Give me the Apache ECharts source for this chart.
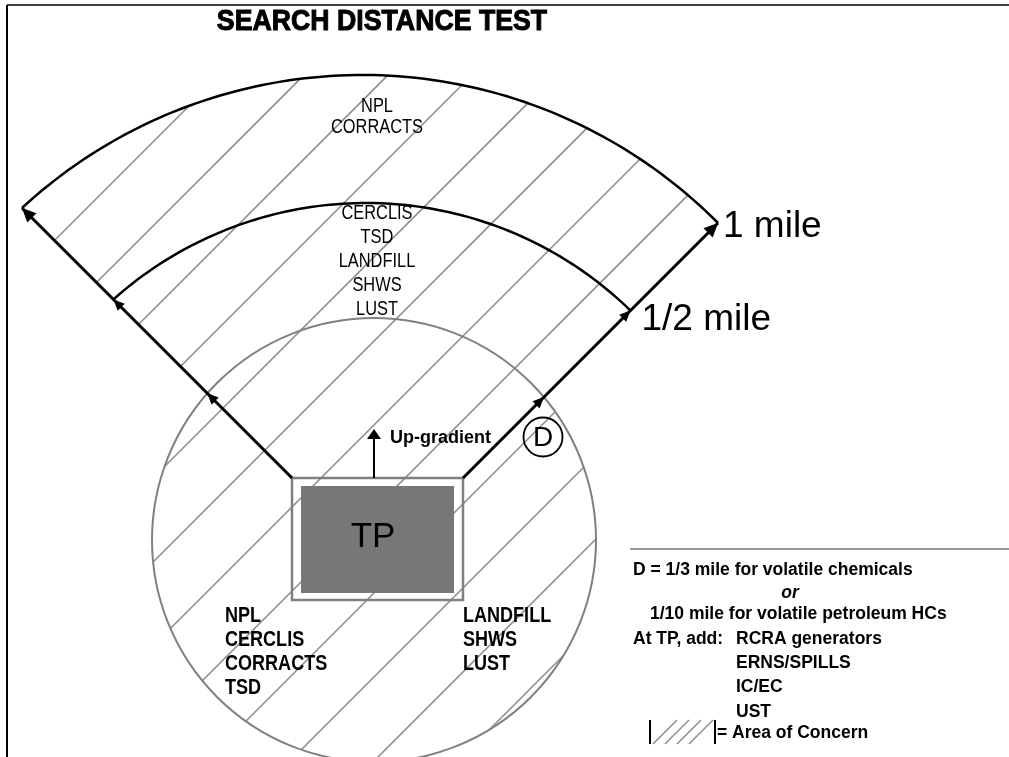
<!DOCTYPE html>
<html>
<head>
<meta charset="utf-8">
<script src="https://cdn.jsdelivr.net/npm/echarts@6/dist/echarts.min.js"></script>
<style>
  html, body { margin: 0; padding: 0; background: #fff; }
  #main { width: 1009px; height: 757px; }
</style>
</head>
<body>
<div id="main"></div>
<script>
// text content of the diagram
const titleText = 'SEARCH DISTANCE TEST';
const ringLabels = ['1 mile', '1/2 mile'];
const outerZoneSites = ['NPL', 'CORRACTS'];
const middleZoneSites = ['CERCLIS', 'TSD', 'LANDFILL', 'SHWS', 'LUST'];
const innerLeftSites = ['NPL', 'CERCLIS', 'CORRACTS', 'TSD'];
const innerRightSites = ['LANDFILL', 'SHWS', 'LUST'];
const dNotes = ['D = 1/3 mile for volatile chemicals', 'or', '1/10 mile for volatile petroleum HCs'];
const tpAddLead = 'At TP, add:';
const tpAddSites = ['RCRA generators', 'ERNS/SPILLS', 'IC/EC', 'UST'];
const legendText = '= Area of Concern';
const siteText = 'TP';
const distText = 'D';
const gradientText = 'Up-gradient';

// layout (axis units = px)
const W = 1009, H = 757;
const outerRing = { cx: 362.2, cy: 576.7, r: 501.7 };
const innerRing = { cx: 366, cy: 582, r: 379 };
const dCircle = { cx: 374, cy: 540, r: 222 };
const siteBox = { x1: 292, y1: 478, x2: 463, y2: 600 };
const tpFill = { x1: 301, y1: 486, x2: 454, y2: 593 };
const hatchOffset = 295, hatchStep = 84;

const SQ = Math.SQRT1_2;
const sides = [
  { p: [siteBox.x1, siteBox.y1], d: [-SQ, -SQ] },
  { p: [siteBox.x2, siteBox.y1], d: [SQ, -SQ] }
];

function rayHit(side, c) {
  const px = side.p[0] - c.cx, py = side.p[1] - c.cy;
  const b = side.d[0] * px + side.d[1] * py;
  const cc = px * px + py * py - c.r * c.r;
  const t = -b + Math.sqrt(b * b - cc);
  return [side.p[0] + side.d[0] * t, side.p[1] + side.d[1] * t];
}

// x-interval of the line x + y = s inside a circle
function lineCircle(s, c) {
  const u = s - c.cy;
  const B = c.cx + u;
  const disc = B * B - 2 * (c.cx * c.cx + u * u - c.r * c.r);
  if (disc <= 0) return null;
  const q = Math.sqrt(disc);
  return [(B - q) / 2, (B + q) / 2];
}

// wedge between the two rays, under the outer arc, above the site box
const leftConst = siteBox.y1 - siteBox.x1;
const rightConst = siteBox.y1 + siteBox.x2;
function lineWedge(s) {
  if (s > rightConst) return null;
  const d = lineCircle(s, outerRing);
  if (!d) return null;
  const lo = Math.max(d[0], (s - leftConst) / 2, s - siteBox.y1);
  return lo < d[1] ? [lo, d[1]] : null;
}

const hatchSegs = [];
for (let k = -6; k < 30; k++) {
  const s = hatchOffset + k * hatchStep;
  const a = lineCircle(s, dCircle), b = lineWedge(s);
  let parts = [];
  if (a && b && a[0] <= b[1] && b[0] <= a[1]) parts = [[Math.min(a[0], b[0]), Math.max(a[1], b[1])]];
  else parts = [a, b].filter(Boolean);
  parts.forEach(p => hatchSegs.push([p[0], s - p[0], p[1], s - p[1]]));
}

// legend swatch hatch
const swatch = { x1: 650, x2: 715, y1: 720, y2: 744 };
[1397, 1409, 1421, 1433].forEach(s => {
  const xa = Math.max(swatch.x1 + 2, s - swatch.y2), xb = Math.min(swatch.x2 - 2, s - swatch.y1);
  hatchSegs.push([xa, s - xa, xb, s - xb]);
});

const rings = [outerRing, innerRing].map(r => Object.assign({ ends: sides.map(sd => rayHit(sd, r)) }, r));

const markers = [];
rings.forEach((r, i) => r.ends.forEach((e, j) => markers.push({ p: e, d: sides[j].d, len: i === 0 ? 14 : 11, hw: i === 0 ? 6.5 : 5 })));
sides.forEach(sd => markers.push({ p: rayHit(sd, dCircle), d: sd.d, len: 11, hw: 5 }));
markers.push({ p: [374, 429], d: [0, -1], len: 10, hw: 7 });

const fonts = {
  title: { fontSize: 30, fontWeight: 'bold', sx: 0.89, stroke: 1 },
  zone: { fontSize: 20, fontWeight: 'normal', sx: 0.82 },
  site: { fontSize: 22, fontWeight: 'bold', sx: 0.82 },
  ring: { fontSize: 37, fontWeight: 'normal' },
  note: { fontSize: 17.5, fontWeight: 'bold' },
  noteIt: { fontSize: 17.5, fontWeight: 'bold', fontStyle: 'italic' },
  arrow: { fontSize: 18, fontWeight: 'bold' },
  tp: { fontSize: 35, fontWeight: 'normal' },
  d: { fontSize: 28, fontWeight: 'normal' }
};

const labels = [];
function put(text, x, y, font, align) {
  labels.push({ text, x, y, font, align: align || 'left' });
}
put(titleText, 382, 22, 'title', 'center');
outerZoneSites.forEach((t, i) => put(t, 377, 106 + i * 21.5, 'zone', 'center'));
middleZoneSites.forEach((t, i) => put(t, 377, 213 + i * 24.2, 'zone', 'center'));
innerLeftSites.forEach((t, i) => put(t, 225, 616 + i * 24, 'site'));
innerRightSites.forEach((t, i) => put(t, 463, 616 + i * 24, 'site'));
put(ringLabels[0], rings[0].ends[1][0] + 5, rings[0].ends[1][1] + 4, 'ring');
put(ringLabels[1], rings[1].ends[1][0] + 11, rings[1].ends[1][1] + 9, 'ring');
put(dNotes[0], 633, 570, 'note');
put(dNotes[1], 790, 593, 'noteIt', 'center');
put(dNotes[2], 650, 614, 'note');
put(tpAddLead, 633, 639, 'note');
tpAddSites.forEach((t, i) => put(t, 736, 639 + i * 24.3, 'note'));
put(legendText, 717, 733, 'note');
put(gradientText, 390, 438, 'arrow');
put(siteText, 373, 537, 'tp', 'center');
put(distText, 543, 438, 'd', 'center');

const chart = echarts.init(document.getElementById('main'));

const base = { type: 'custom', coordinateSystem: 'cartesian2d', silent: true, animation: false };

const option = {
  backgroundColor: '#fff',
  grid: { left: 0, right: 0, top: 0, bottom: 0 },
  xAxis: { type: 'value', min: 0, max: W, show: false },
  yAxis: { type: 'value', min: 0, max: H, inverse: true, show: false },
  series: [
    // hatch
    Object.assign({}, base, {
      z: 1,
      data: hatchSegs,
      renderItem: (params, api) => {
        const a = api.coord([api.value(0), api.value(1)]);
        const b = api.coord([api.value(2), api.value(3)]);
        return { type: 'line', shape: { x1: a[0], y1: a[1], x2: b[0], y2: b[1] }, style: { stroke: '#8a8a8a', lineWidth: 1.5 } };
      }
    }),
    // D circle
    Object.assign({}, base, {
      z: 2,
      data: [[dCircle.cx, dCircle.cy, dCircle.r]],
      renderItem: (params, api) => {
        const c = api.coord([api.value(0), api.value(1)]);
        const r = api.size([api.value(2), 0])[0];
        return { type: 'circle', shape: { cx: c[0], cy: c[1], r: r }, style: { stroke: '#808080', lineWidth: 2, fill: null } };
      }
    }),
    // site box
    Object.assign({}, base, {
      z: 3,
      data: [[0]],
      renderItem: (params, api) => {
        const a = api.coord([siteBox.x1, siteBox.y1]), b = api.coord([siteBox.x2, siteBox.y2]);
        const c = api.coord([tpFill.x1, tpFill.y1]), d = api.coord([tpFill.x2, tpFill.y2]);
        return {
          type: 'group',
          children: [
            { type: 'rect', shape: { x: c[0], y: c[1], width: d[0] - c[0], height: d[1] - c[1] }, style: { fill: '#777777' } },
            { type: 'rect', shape: { x: a[0], y: a[1], width: b[0] - a[0], height: b[1] - a[1] }, style: { fill: null, stroke: '#808080', lineWidth: 2.5 } }
          ]
        };
      }
    }),
    // arcs
    Object.assign({}, base, {
      z: 4,
      data: ringLabels.map((l, i) => [i]),
      renderItem: (params, api) => {
        const r = rings[params.dataIndex];
        const a0 = Math.atan2(r.ends[0][1] - r.cy, r.ends[0][0] - r.cx);
        const a1 = Math.atan2(r.ends[1][1] - r.cy, r.ends[1][0] - r.cx);
        const pts = [];
        for (let i = 0; i <= 90; i++) {
          const a = a0 + (a1 - a0) * i / 90;
          pts.push(api.coord([r.cx + r.r * Math.cos(a), r.cy + r.r * Math.sin(a)]));
        }
        return { type: 'polyline', shape: { points: pts }, style: { stroke: '#000', lineWidth: 2.5, fill: null } };
      }
    }),
    // radial lines + up-gradient shaft
    Object.assign({}, base, {
      z: 4,
      data: [[sides[0].p[0], sides[0].p[1], rings[0].ends[0][0], rings[0].ends[0][1], 3],
             [sides[1].p[0], sides[1].p[1], rings[0].ends[1][0], rings[0].ends[1][1], 3],
             [374, siteBox.y1, 374, 438, 2]],
      renderItem: (params, api) => {
        const a = api.coord([api.value(0), api.value(1)]);
        const b = api.coord([api.value(2), api.value(3)]);
        return { type: 'line', shape: { x1: a[0], y1: a[1], x2: b[0], y2: b[1] }, style: { stroke: '#000', lineWidth: api.value(4) } };
      }
    }),
    // arrowheads
    Object.assign({}, base, {
      z: 5,
      data: markers.map(m => [m.p[0], m.p[1]]),
      renderItem: (params, api) => {
        const m = markers[params.dataIndex];
        const x = api.value(0), y = api.value(1);
        const bx = x - m.d[0] * m.len, by = y - m.d[1] * m.len;
        const nx = -m.d[1] * m.hw, ny = m.d[0] * m.hw;
        const pts = [[x, y], [bx + nx, by + ny], [bx - nx, by - ny]].map(p => api.coord(p));
        return { type: 'polygon', shape: { points: pts }, style: { fill: '#000' } };
      }
    }),
    // D marker circle, frame lines
    Object.assign({}, base, {
      z: 5,
      data: [[0]],
      renderItem: (params, api) => {
        const dc = api.coord([543, 437]);
        const seg = (x1, y1, x2, y2, w, c) => {
          const a = api.coord([x1, y1]), b = api.coord([x2, y2]);
          return { type: 'line', shape: { x1: a[0], y1: a[1], x2: b[0], y2: b[1] }, style: { stroke: c || '#000', lineWidth: w } };
        };
        return {
          type: 'group',
          children: [
            { type: 'circle', shape: { cx: dc[0], cy: dc[1], r: api.size([19.5, 0])[0] }, style: { fill: null, stroke: '#000', lineWidth: 1.8 } },
            seg(7, 5, W, 5, 1.5),
            seg(7, 5, 7, H, 2),
            seg(630, 549, W, 549, 1, '#333'),
            seg(swatch.x1, swatch.y1, swatch.x1, swatch.y2, 2),
            seg(swatch.x2, swatch.y1, swatch.x2, swatch.y2, 2)
          ]
        };
      }
    }),
    // texts
    Object.assign({}, base, {
      z: 10,
      data: labels.map(l => [l.x, l.y]),
      renderItem: (params, api) => {
        const l = labels[params.dataIndex];
        const f = fonts[l.font];
        const pt = api.coord([api.value(0), api.value(1)]);
        return {
          type: 'text',
          x: pt[0],
          y: pt[1],
          scaleX: f.sx || 1,
          style: {
            text: l.text,
            fill: '#000',
            fontSize: f.fontSize,
            fontFamily: 'Liberation Sans',
            fontWeight: f.fontWeight,
            fontStyle: f.fontStyle || 'normal',
            align: l.align,
            verticalAlign: 'middle',
            stroke: f.stroke ? '#000' : null,
            lineWidth: f.stroke || 0
          }
        };
      }
    })
  ]
};
chart.setOption(option);

window.addEventListener('resize', () => {
  chart.resize();
});
</script>
</body>
</html>
